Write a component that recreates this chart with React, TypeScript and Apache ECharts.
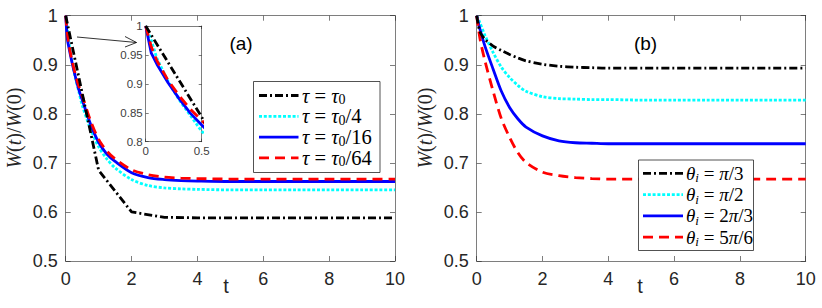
import React, { useEffect, useRef } from "react";
import * as echarts from "echarts";

// ---------- data ----------
// Panel (a): different tau
const tBlackA = [0, 1, 2, 3, 4, 5, 6, 7, 8, 9, 10];
const wTau0 = [1, 0.685, 0.6, 0.589, 0.588, 0.588, 0.588, 0.588, 0.588, 0.588, 0.588];

const tA = [0, 0.05, 0.1, 0.2, 0.3, 0.4, 0.5, 0.75, 1, 1.25, 1.5, 2, 2.5, 3, 3.5, 4, 5, 6, 7, 8, 9, 10];
const wTau4 = [1, 0.975, 0.944, 0.904, 0.872, 0.845, 0.818, 0.77, 0.733, 0.708, 0.69, 0.666, 0.654, 0.649, 0.647, 0.646, 0.645, 0.645, 0.645, 0.645, 0.645, 0.645];
const wTau16 = [1, 0.953, 0.934, 0.902, 0.874, 0.849, 0.829, 0.78, 0.742, 0.718, 0.703, 0.68, 0.67, 0.666, 0.664, 0.663, 0.662, 0.662, 0.662, 0.662, 0.662, 0.662];
const wTau64 = [1, 0.964, 0.94, 0.906, 0.879, 0.856, 0.837, 0.787, 0.748, 0.724, 0.708, 0.686, 0.676, 0.671, 0.669, 0.668, 0.667, 0.667, 0.667, 0.667, 0.667, 0.667];

// Panel (b): different theta_i
const tB = [0, 0.1, 0.25, 0.5, 0.75, 1, 1.25, 1.5, 2, 2.5, 3, 3.5, 4, 5, 6, 7, 8, 9, 10];
const wPi3 = [1, 0.967, 0.952, 0.938, 0.929, 0.921, 0.914, 0.908, 0.901, 0.897, 0.895, 0.894, 0.893, 0.893, 0.893, 0.893, 0.893, 0.893, 0.893];
const wPi2 = [1, 0.985, 0.96, 0.925, 0.895, 0.874, 0.858, 0.846, 0.835, 0.831, 0.83, 0.829, 0.829, 0.828, 0.828, 0.828, 0.828, 0.828, 0.828];
const w2Pi3 = [1, 0.972, 0.938, 0.891, 0.846, 0.813, 0.79, 0.773, 0.755, 0.745, 0.741, 0.74, 0.739, 0.739, 0.739, 0.739, 0.739, 0.739, 0.739];
const w5Pi6 = [1, 0.953, 0.908, 0.846, 0.79, 0.752, 0.721, 0.701, 0.681, 0.674, 0.67, 0.668, 0.667, 0.667, 0.667, 0.667, 0.667, 0.667, 0.667];

const xTicks = { min: 0, max: 10, interval: 2 };
const yTicks = { min: 0.5, max: 1, interval: 0.1 };
const insetX = { min: 0, max: 0.5, interval: 0.5 };
const insetY = { min: 0.8, max: 1, interval: 0.05 };

// legend labels (rich text markup)
const legendLabelsA = [
  "{it|τ}{rm| = }{it|τ}{sub|0}",
  "{it|τ}{rm| = }{it|τ}{sub|0}{rm|/4}",
  "{it|τ}{rm| = }{it|τ}{sub|0}{rm|/16}",
  "{it|τ}{rm| = }{it|τ}{sub|0}{rm|/64}",
];
const legendLabelsB = [
  "{it|θ}{subi|i}{rm| = }{it|π}{rm|/3}",
  "{it|θ}{subi|i}{rm| = }{it|π}{rm|/2}",
  "{it|θ}{subi|i}{rm| = 2}{it|π}{rm|/3}",
  "{it|θ}{subi|i}{rm| = 5}{it|π}{rm|/6}",
];

const zip = (t: number[], w: number[]) => t.map((x, i) => [x, w[i]]);

const AX = "#262626";
const SANS = "Liberation Sans";
const SERIF = "Liberation Serif";

const mkRich = (fs: number, sfs: number) => ({
  it: { fontFamily: SERIF, fontStyle: "italic", fontSize: fs, lineHeight: 22, verticalAlign: "middle", fill: "#000" },
  rm: { fontFamily: SERIF, fontSize: fs, lineHeight: 22, verticalAlign: "middle", fill: "#000" },
  sub: { fontFamily: SERIF, fontSize: sfs, lineHeight: 12, verticalAlign: "bottom", fill: "#000" },
  subi: { fontFamily: SERIF, fontStyle: "italic", fontSize: sfs, lineHeight: 12, verticalAlign: "bottom", fill: "#000" },
});

const lineStyles = [
  { color: "#000000", width: 2.8, type: [8, 3, 2, 3] },
  { color: "#00ffff", width: 2.8, type: [3, 1.8] },
  { color: "#0000ff", width: 2.8, type: "solid" },
  { color: "#ff0000", width: 2.8, type: [10, 6] },
];

function mkSeries(name: string, data: number[][], st: any, xi: number, yi: number, smooth: boolean, z = 2) {
  return {
    type: "line",
    name,
    data,
    xAxisIndex: xi,
    yAxisIndex: yi,
    showSymbol: false,
    symbol: "none",
    smooth: smooth ? 0.3 : false,
    clip: true,
    z,
    lineStyle: { color: st.color, width: st.width, type: st.type, cap: "butt" },
    itemStyle: { color: st.color },
    emphasis: { disabled: true },
  };
}

function axisBase(extra: any, showLabel: boolean, fontSize = 18, margin = 8, color = AX, tickLen = 5) {
  return {
    type: "value",
    ...extra,
    axisLine: { show: true, onZero: false, lineStyle: { color: AX, width: 0.6 } },
    axisTick: { show: true, inside: true, length: tickLen, lineStyle: { color: AX, width: 0.6 } },
    splitLine: { show: false },
    axisLabel: { show: showLabel, fontFamily: SANS, fontSize, color, margin },
  };
}

function legendGraphic(labels: string[], rich: any, box: { x: number; y: number; w: number; h: number }, rowTop: number, rowStep: number, lineX1: number, lineX2: number, textX: number) {
  const els: any[] = [
    { type: "rect", shape: { x: box.x, y: box.y, width: box.w, height: box.h }, style: { fill: "#fff", stroke: AX, lineWidth: 0.8 }, z: 100 },
  ];
  labels.forEach((lab, i) => {
    const y = rowTop + i * rowStep;
    const st = lineStyles[i];
    els.push({
      type: "line", z: 101,
      shape: { x1: lineX1, y1: y, x2: lineX2, y2: y },
      style: { stroke: st.color, lineWidth: st.width, lineDash: st.type === "solid" ? null : st.type, lineCap: "butt" },
    });
    els.push({
      type: "text", z: 101, x: textX, y,
      style: { text: lab, rich, align: "left", verticalAlign: "middle" },
    });
  });
  return els;
}

const yLabel = (x: number) => ({
  type: "text", x, y: 128, rotation: Math.PI / 2,
  style: {
    text: "{it|W}{rm|(}{it|t}{rm|)/}{it|W}{rm|(0)}",
    align: "center", verticalAlign: "middle",
    rich: {
      it: { fontFamily: SERIF, fontStyle: "italic", fontSize: 20, fill: AX },
      rm: { fontFamily: SERIF, fontSize: 20, fill: AX },
    },
  },
});

export default function App() {
  const ref = useRef<HTMLDivElement>(null);
  useEffect(() => {
    document.body.style.margin = "0";
    const chart = echarts.init(ref.current!, undefined, { renderer: "svg" });
    const grids = [
      { left: 65.7, top: 15.7, width: 329.3, height: 245.3 },
      { left: 476.7, top: 15.7, width: 329, height: 245.3 },
      { left: 145.7, top: 26, width: 56, height: 115.7, backgroundColor: "#fff", show: true, borderWidth: 0 },
    ];
    const xAxis = [
      axisBase({ gridIndex: 0, position: "bottom", ...xTicks }, true, 18, 9),
      axisBase({ gridIndex: 0, position: "top", ...xTicks }, false),
      axisBase({ gridIndex: 1, position: "bottom", ...xTicks }, true, 18, 9),
      axisBase({ gridIndex: 1, position: "top", ...xTicks }, false),
      axisBase({ gridIndex: 2, position: "bottom", ...insetX }, true, 11.5, 3, "#404040", 3),
      axisBase({ gridIndex: 2, position: "top", ...insetX }, false, 11.5, 3, "#404040", 3),
    ];
    const yAxis = [
      axisBase({ gridIndex: 0, position: "left", ...yTicks }, true, 18, 8),
      axisBase({ gridIndex: 0, position: "right", ...yTicks }, false),
      axisBase({ gridIndex: 1, position: "left", ...yTicks }, true, 18, 8),
      axisBase({ gridIndex: 1, position: "right", ...yTicks }, false),
      axisBase({ gridIndex: 2, position: "left", ...insetY }, true, 11.5, 3, "#404040", 3),
      axisBase({ gridIndex: 2, position: "right", ...insetY }, false, 11.5, 3, "#404040", 3),
    ];

    const series = [
      mkSeries("τ = τ0", zip(tBlackA, wTau0), lineStyles[0], 0, 0, false, 5),
      mkSeries("τ = τ0/4", zip(tA, wTau4), lineStyles[1], 0, 0, true, 2),
      mkSeries("τ = τ0/16", zip(tA, wTau16), lineStyles[2], 0, 0, true, 3),
      mkSeries("τ = τ0/64", zip(tA, wTau64), lineStyles[3], 0, 0, true, 4),
      mkSeries("τ = τ0", zip(tBlackA, wTau0), lineStyles[0], 4, 4, false, 5),
      mkSeries("τ = τ0/4", zip(tA, wTau4), lineStyles[1], 4, 4, false, 2),
      mkSeries("τ = τ0/16", zip(tA, wTau16), lineStyles[2], 4, 4, false, 3),
      mkSeries("τ = τ0/64", zip(tA, wTau64), lineStyles[3], 4, 4, false, 4),
      mkSeries("θi = π/3", zip(tB, wPi3), lineStyles[0], 2, 2, true, 5),
      mkSeries("θi = π/2", zip(tB, wPi2), lineStyles[1], 2, 2, true, 2),
      mkSeries("θi = 2π/3", zip(tB, w2Pi3), lineStyles[2], 2, 2, true, 3),
      mkSeries("θi = 5π/6", zip(tB, w5Pi6), lineStyles[3], 2, 2, true, 4),
    ];

    const option: any = {
      animation: false,
      grid: grids,
      xAxis,
      yAxis,
      series,
      graphic: [
        yLabel(14),
        yLabel(425),
        { type: "text", x: 226, y: 286, style: { text: "t", fontFamily: SANS, fontSize: 20, fill: AX, align: "center", verticalAlign: "middle" } },
        { type: "text", x: 640, y: 286, style: { text: "t", fontFamily: SANS, fontSize: 20, fill: AX, align: "center", verticalAlign: "middle" } },
        { type: "text", x: 241, y: 43, style: { text: "(a)", fontFamily: SANS, fontSize: 19, fill: "#000", align: "center", verticalAlign: "middle" } },
        { type: "text", x: 645.5, y: 43, style: { text: "(b)", fontFamily: SANS, fontSize: 19, fill: "#000", align: "center", verticalAlign: "middle" } },
        { type: "line", shape: { x1: 77, y1: 37, x2: 136.5, y2: 42.5 }, style: { stroke: "#000", lineWidth: 0.8 } },
        { type: "polyline", shape: { points: [[125, 36.5], [136.5, 42.5], [125, 47]] }, style: { stroke: "#000", lineWidth: 0.8, fill: null } },
        ...legendGraphic(legendLabelsA, mkRich(20.5, 14), { x: 253.5, y: 81.5, w: 126.5, h: 91 }, 95.5, 20.8, 259, 298.5, 302),
        ...legendGraphic(legendLabelsB, mkRich(19, 13), { x: 638.5, y: 160, w: 115, h: 90.5 }, 173.3, 21.3, 643, 683, 686),
      ],
    };
    chart.setOption(option);
    return () => chart.dispose();
  }, []);
  return <div ref={ref} style={{ width: 822, height: 308 }} />;
}
